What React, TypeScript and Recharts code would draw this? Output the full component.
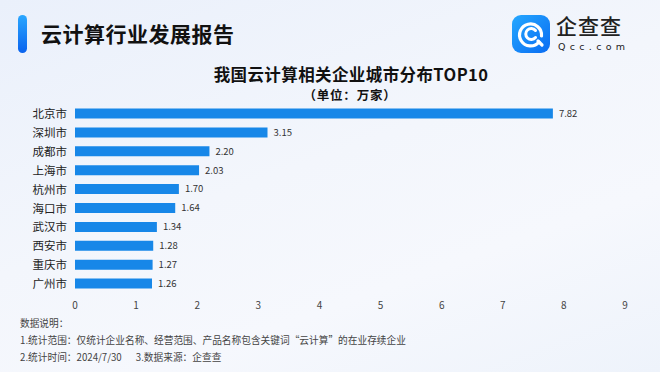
import React from 'react';
import { BarChart, Bar, XAxis, YAxis, LabelList } from 'recharts';

const cities = ['北京市', '深圳市', '成都市', '上海市', '杭州市', '海口市', '武汉市', '西安市', '重庆市', '广州市'];
const counts = [7.82, 3.15, 2.2, 2.03, 1.7, 1.64, 1.34, 1.28, 1.27, 1.26];
const xTicks = [0, 1, 2, 3, 4, 5, 6, 7, 8, 9];

const data = cities.map((c, i) => ({ city: c, value: counts[i] }));

const FONT = '"Noto Sans CJK SC", "Noto Sans", sans-serif';

function Logo() {
  return (
    <svg width={38} height={38} viewBox="0 0 38 38">
      <defs>
        <linearGradient id="lg" x1="0" y1="0" x2="1" y2="1">
          <stop offset="0%" stopColor="#25a8ff" />
          <stop offset="100%" stopColor="#0a6cf2" />
        </linearGradient>
      </defs>
      <rect x={0} y={0} width={38} height={38} rx={9} fill="url(#lg)" />
      <path d="M27 27 A11 11 0 1 1 29.5 21" fill="none" stroke="#fff" strokeWidth={3.2} strokeLinecap="round" />
      <path d="M23.5 15.5 A5.5 5.5 0 1 0 23.5 22.5" fill="none" stroke="#fff" strokeWidth={3} strokeLinecap="round" />
      <path d="M26 26 L30 30" stroke="#fff" strokeWidth={3.2} strokeLinecap="round" />
    </svg>
  );
}

export default function App() {
  return (
    <div
      style={{
        position: 'absolute',
        left: 0,
        top: 0,
        width: 660,
        height: 372,
        overflow: 'hidden',
        background: 'linear-gradient(160deg, #eaf0fb 0%, #f3f6fc 45%, #f6f8fd 70%, #eef3fb 100%)',
        fontFamily: FONT,
      }}
    >
      <div
        style={{
          position: 'absolute',
          left: 18,
          top: 15,
          width: 9,
          height: 38,
          borderRadius: 5,
          background: 'linear-gradient(180deg, #2aa7ff 0%, #0a63ee 100%)',
        }}
      />
      <div
        style={{
          position: 'absolute',
          left: 41,
          top: 17,
          fontSize: 21,
          fontWeight: 700,
          color: '#111',
          lineHeight: '32px',
          letterSpacing: 0.5,
        }}
      >
        云计算行业发展报告
      </div>
      <div style={{ position: 'absolute', left: 512, top: 15 }}>
        <Logo />
      </div>
      <div
        style={{
          position: 'absolute',
          left: 556,
          top: 12,
          fontSize: 21,
          fontWeight: 500,
          color: '#222',
          lineHeight: '26px',
          letterSpacing: 1,
        }}
      >
        企查查
      </div>
      <div
        style={{
          position: 'absolute',
          left: 558,
          top: 41,
          fontSize: 9.5,
          color: '#222',
          lineHeight: '11px',
          letterSpacing: 4.3,
          fontFamily: '"DejaVu Sans", sans-serif',
        }}
      >
        Qcc.com
      </div>
      <div
        style={{
          position: 'absolute',
          left: 0,
          width: 660,
          top: 64.5,
          textAlign: 'center',
          fontSize: 16.5,
          fontWeight: 700,
          color: '#111',
          lineHeight: '18px',
          letterSpacing: 0.4,
          paddingLeft: 42,
          boxSizing: 'border-box',
        }}
      >
        我国云计算相关企业城市分布TOP10
      </div>
      <div
        style={{
          position: 'absolute',
          left: 0,
          width: 660,
          top: 88,
          textAlign: 'center',
          fontSize: 12.5,
          fontWeight: 700,
          color: '#111',
          lineHeight: '14px',
          letterSpacing: 0.8,
          paddingLeft: 40,
          boxSizing: 'border-box',
        }}
      >
        （单位：万家）
      </div>
      <div style={{ position: 'absolute', left: 0, top: 0 }}>
        <BarChart
          width={660}
          height={372}
          data={data}
          layout="vertical"
          margin={{ top: 104.5, right: 35, bottom: 58.5, left: 0 }}
        >
          <XAxis
            type="number"
            domain={[0, 9]}
            ticks={xTicks}
            interval={0}
            axisLine={false}
            tickLine={false}
            tickSize={0}
            tickMargin={8}
            height={20}
            tick={{ fontSize: 10, fill: '#444', fontFamily: FONT }}
          />
          <YAxis
            type="category"
            dataKey="city"
            width={75}
            axisLine={false}
            tickLine={false}
            tickSize={0}
            tickMargin={8}
            interval={0}
            tick={{ fontSize: 11.5, fill: '#222', fontFamily: FONT }}
          />
          <Bar dataKey="value" fill="#1787e8" barSize={10} isAnimationActive={false}>
            <LabelList
              dataKey="value"
              position="right"
              offset={6}
              formatter={(v: number) => v.toFixed(2)}
              style={{ fontSize: 9.5, fill: '#333', fontFamily: FONT }}
            />
          </Bar>
        </BarChart>
      </div>
      <div
        style={{
          position: 'absolute',
          left: 20,
          top: 315,
          fontSize: 9.7,
          color: '#444',
          lineHeight: '17px',
        }}
      >
        <div>数据说明：</div>
        <div>1.统计范围：仅统计企业名称、经营范围、产品名称包含关键词“云计算”的在业存续企业</div>
        <div>
          2.统计时间：2024/7/30<span style={{ display: 'inline-block', width: 14 }} />3.数据来源：企查查
        </div>
      </div>
    </div>
  );
}
